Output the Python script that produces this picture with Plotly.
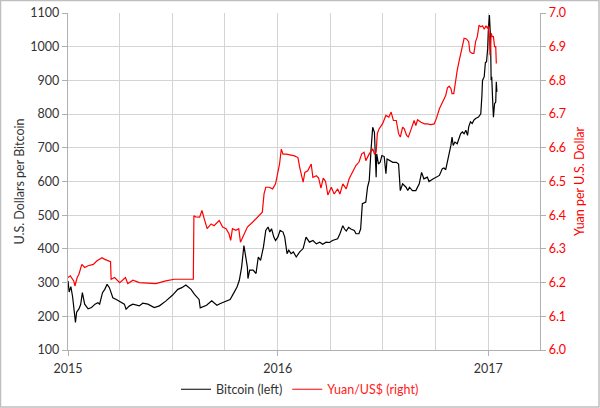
import plotly.graph_objects as go

btc_dates = [
    "2015-01-01","2015-01-03","2015-01-06","2015-01-09","2015-01-14","2015-01-16","2015-01-20","2015-01-23",
    "2015-01-26","2015-01-30","2015-02-05","2015-02-11","2015-02-17","2015-02-22","2015-02-25","2015-03-02",
    "2015-03-06","2015-03-10","2015-03-14","2015-03-20","2015-03-26","2015-04-01","2015-04-09","2015-04-12",
    "2015-04-18","2015-04-24","2015-05-05","2015-05-11","2015-05-20","2015-05-31","2015-06-09","2015-06-20",
    "2015-07-02","2015-07-11","2015-07-18","2015-07-25","2015-08-03","2015-08-09","2015-08-17","2015-08-19",
    "2015-08-24","2015-08-30","2015-09-08","2015-09-17","2015-09-23","2015-10-01","2015-10-10","2015-10-16",
    "2015-10-22","2015-10-26","2015-10-30","2015-11-03","2015-11-06","2015-11-09","2015-11-10","2015-11-13",
    "2015-11-19","2015-11-24","2015-11-28","2015-12-02","2015-12-07","2015-12-11","2015-12-15","2015-12-18",
    "2015-12-21","2015-12-25","2015-12-28","2016-01-01","2016-01-05","2016-01-10","2016-01-13","2016-01-17",
    "2016-01-20","2016-01-24","2016-01-28","2016-02-02","2016-02-08","2016-02-14","2016-02-19","2016-02-25",
    "2016-03-02","2016-03-08","2016-03-14","2016-03-19","2016-03-25","2016-03-31","2016-04-05","2016-04-14",
    "2016-04-18","2016-04-23","2016-04-26","2016-04-29","2016-05-03","2016-05-07","2016-05-13","2016-05-16",
    "2016-05-21","2016-05-24","2016-05-27","2016-06-02","2016-06-05","2016-06-08","2016-06-11","2016-06-14",
    "2016-06-17","2016-06-20","2016-06-21","2016-06-24","2016-06-27","2016-06-30","2016-07-04","2016-07-07",
    "2016-07-09","2016-07-13","2016-07-19","2016-07-25","2016-07-29","2016-08-01","2016-08-05","2016-08-11",
    "2016-08-14","2016-08-17","2016-08-22","2016-08-28","2016-09-03","2016-09-07","2016-09-11","2016-09-17",
    "2016-09-20","2016-09-26","2016-10-02","2016-10-08","2016-10-13","2016-10-16","2016-10-19","2016-10-22",
    "2016-10-25","2016-10-28","2016-10-30","2016-11-01","2016-11-04","2016-11-08","2016-11-14","2016-11-17",
    "2016-11-20","2016-11-23","2016-11-26","2016-11-28","2016-12-01","2016-12-04","2016-12-07","2016-12-10",
    "2016-12-15","2016-12-19","2016-12-21","2016-12-22","2016-12-25","2016-12-27","2016-12-29","2016-12-31",
    "2017-01-01","2017-01-03","2017-01-05","2017-01-06","2017-01-07","2017-01-09","2017-01-10","2017-01-12",
    "2017-01-14","2017-01-15","2017-01-16",
]
btc_values = [
    305,272,288,258,182,212,222,235,
    270,236,222,226,236,240,236,270,
    280,295,285,255,250,245,236,221,
    231,236,231,239,236,226,231,245,
    263,280,285,293,280,265,250,225,
    228,233,246,233,238,243,250,268,
    287,307,346,410,376,346,312,337,
    337,327,376,366,406,455,465,450,
    460,435,425,435,455,450,435,386,
    396,386,391,376,391,401,435,420,
    425,415,420,414,420,419,425,430,
    445,469,459,453,464,459,455,445,
    445,459,534,539,583,603,692,761,
    746,613,682,652,657,677,674,623,
    667,662,657,657,652,573,593,583,
    573,583,573,573,593,627,608,613,
    600,607,612,618,638,640,635,658,
    687,707,732,707,717,712,742,747,
    742,752,737,762,777,772,782,787,
    791,801,856,900,911,953,955,995,
    1044,1094,1025,901,911,826,791,831,
    836,896,866,
]

cny_dates = [
    "2015-01-01","2015-01-05","2015-01-11","2015-01-13","2015-01-17","2015-01-20","2015-01-25","2015-01-30",
    "2015-02-05","2015-02-14","2015-02-20","2015-03-01","2015-03-06","2015-03-14","2015-03-16","2015-03-17",
    "2015-03-23","2015-04-01","2015-04-11","2015-04-15","2015-04-24","2015-05-05","2015-05-23","2015-06-03",
    "2015-06-20","2015-07-05","2015-07-25","2015-08-07","2015-08-08","2015-08-11","2015-08-18","2015-08-22",
    "2015-08-26","2015-08-31","2015-09-07","2015-09-12","2015-09-21","2015-09-27","2015-10-03","2015-10-08",
    "2015-10-11","2015-10-14","2015-10-20","2015-10-25","2015-10-28","2015-11-03","2015-11-09","2015-11-18",
    "2015-11-26","2015-12-05","2015-12-08","2015-12-11","2015-12-17","2015-12-23","2015-12-28","2016-01-01",
    "2016-01-04","2016-01-07","2016-01-10","2016-01-16","2016-01-21","2016-01-30","2016-02-05","2016-02-08",
    "2016-02-14","2016-02-17","2016-02-22","2016-02-28","2016-03-02","2016-03-08","2016-03-12","2016-03-16",
    "2016-03-20","2016-03-24","2016-03-28","2016-04-03","2016-04-08","2016-04-14","2016-04-18","2016-04-23",
    "2016-04-29","2016-05-04","2016-05-10","2016-05-16","2016-05-21","2016-05-26","2016-05-30","2016-06-02",
    "2016-06-08","2016-06-14","2016-06-17","2016-06-20","2016-06-22","2016-06-25","2016-07-01","2016-07-04",
    "2016-07-07","2016-07-12","2016-07-16","2016-07-20","2016-07-25","2016-07-29","2016-08-01","2016-08-05",
    "2016-08-08","2016-08-12","2016-08-15","2016-08-19","2016-08-25","2016-08-28","2016-08-31","2016-09-06",
    "2016-09-12","2016-09-17","2016-09-23","2016-09-29","2016-10-03","2016-10-08","2016-10-13","2016-10-19",
    "2016-10-22","2016-10-25","2016-10-28","2016-10-30","2016-11-02","2016-11-05","2016-11-08","2016-11-11",
    "2016-11-14","2016-11-17","2016-11-20","2016-11-24","2016-11-28","2016-11-30","2016-12-04","2016-12-07",
    "2016-12-10","2016-12-13","2016-12-16","2016-12-19","2016-12-22","2016-12-25","2016-12-28","2016-12-31",
    "2017-01-01","2017-01-03","2017-01-04","2017-01-06","2017-01-08","2017-01-10","2017-01-12","2017-01-14",
    "2017-01-15",
]
cny_values = [
    6.215,6.220,6.205,6.190,6.215,6.225,6.254,6.245,
    6.250,6.254,6.264,6.274,6.269,6.264,6.262,6.210,
    6.215,6.200,6.215,6.197,6.207,6.200,6.197,6.197,
    6.205,6.210,6.210,6.210,6.398,6.395,6.394,6.414,
    6.389,6.360,6.374,6.369,6.384,6.365,6.360,6.345,
    6.325,6.360,6.355,6.360,6.320,6.345,6.365,6.379,
    6.394,6.409,6.463,6.483,6.483,6.478,6.493,6.522,
    6.552,6.596,6.581,6.581,6.579,6.576,6.571,6.542,
    6.498,6.527,6.532,6.552,6.512,6.517,6.510,6.480,
    6.510,6.500,6.460,6.483,6.463,6.478,6.463,6.493,
    6.478,6.508,6.528,6.548,6.557,6.582,6.587,6.562,
    6.582,6.597,6.582,6.587,6.642,6.656,6.671,6.686,
    6.696,6.691,6.706,6.681,6.681,6.642,6.632,6.661,
    6.656,6.637,6.632,6.651,6.681,6.666,6.683,6.676,
    6.671,6.671,6.669,6.671,6.688,6.716,6.736,6.755,
    6.778,6.783,6.776,6.761,6.761,6.800,6.830,6.855,
    6.880,6.905,6.925,6.923,6.915,6.885,6.880,6.880,
    6.915,6.930,6.964,6.959,6.962,6.952,6.962,6.954,
    6.962,6.930,6.875,6.940,6.930,6.930,6.900,6.900,
    6.850,
]

left_ticks = [100, 200, 300, 400, 500, 600, 700, 800, 900, 1000, 1100]
right_ticks = [6.0, 6.1, 6.2, 6.3, 6.4, 6.5, 6.6, 6.7, 6.8, 6.9, 7.0]

FONT = "Lato"
GRID = "#d4d4d4"
AXIS = "#b0b0b0"
TXT = "#333333"
RED = "#ff0000"

fig = go.Figure()
fig.add_trace(go.Scatter(
    x=cny_dates, y=cny_values, yaxis="y2", mode="lines",
    line=dict(color=RED, width=1.2),
    name="<span style='color:#ff2020'>Yuan/US$ (right)</span>", legendrank=2,
))
fig.add_trace(go.Scatter(
    x=btc_dates, y=btc_values, mode="lines",
    line=dict(color="#000000", width=1.2),
    name="Bitcoin (left)", legendrank=1,
))

fig.update_layout(
    width=600, height=408,
    margin=dict(l=68, r=60, t=13, b=58, autoexpand=False),
    paper_bgcolor="white", plot_bgcolor="white",
    font=dict(family=FONT, size=12, color=TXT),
    showlegend=True,
    legend=dict(orientation="h", x=0.5, xanchor="center", xref="container",
                y=0.045, yanchor="middle", yref="container",
                font=dict(family=FONT, size=12.5, color=TXT),
                itemwidth=30, tracegroupgap=0, bgcolor="rgba(0,0,0,0)"),
    xaxis=dict(
        type="date", range=["2015-01-01", "2017-04-01"],
        tick0="2015-01-01", dtick="M12", tickformat="%Y",
        showgrid=True, gridcolor=GRID, gridwidth=1.3,
        showline=True, linecolor=AXIS, linewidth=1.3,
        ticks="outside", ticklen=5, tickcolor=AXIS,
        ticklabelstandoff=2, automargin=False,
        tickfont=dict(family=FONT, size=12.5, color=TXT),
        minor=dict(dtick="M3", tick0="2015-01-01", showgrid=True, gridcolor=GRID, gridwidth=1.3),
        zeroline=False,
    ),
    yaxis=dict(
        range=[100, 1100], tickvals=left_ticks, automargin=False,
        showgrid=True, gridcolor=GRID, gridwidth=1.3,
        showline=True, linecolor=AXIS, linewidth=1.3,
        ticks="outside", ticklen=5, tickcolor=AXIS,
        tickfont=dict(family=FONT, size=12.5, color=TXT),
        title=dict(text="U.S. Dollars per Bitcoin", font=dict(family=FONT, size=12.5, color=TXT), standoff=2),
        zeroline=False,
    ),
    yaxis2=dict(
        range=[6.0, 7.0], tickvals=right_ticks, tickformat=".1f", automargin=False,
        overlaying="y", side="right", showgrid=False,
        showline=True, linecolor=AXIS, linewidth=1.3,
        ticks="outside", ticklen=5, tickcolor=AXIS,
        tickfont=dict(family=FONT, size=12.5, color=RED),
        title=dict(text="Yuan per U.S. Dollar", font=dict(family=FONT, size=12.5, color=RED), standoff=10),
        zeroline=False,
    ),
    shapes=[dict(type="rect", xref="paper", yref="paper",
                 x0=-67.5/472, x1=(599-68)/472, y0=(350-407)/337, y1=349.5/337,
                 line=dict(color="#bfbfbf", width=1.5), fillcolor="rgba(0,0,0,0)", layer="below")],
)

fig.write_html("out.html", config={"displayModeBar": False},
               post_script="document.body.style.margin='0';document.body.style.overflow='hidden';")
